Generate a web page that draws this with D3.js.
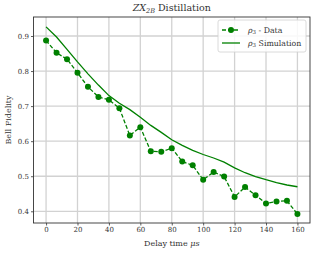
<!DOCTYPE html>
<html>
<head>
<meta charset="utf-8">
<script src="https://cdn.jsdelivr.net/npm/d3@7"></script>
<style>
  body { margin: 0; background: #fff; }
  svg text { font-family: "DejaVu Serif", serif; fill: #333; }
</style>
</head>
<body>
<div id="chart"></div>
<script>
// Data
var delayTimes = [0, 6.67, 13.33, 20, 26.67, 33.33, 40, 46.67, 53.33, 60, 66.67, 73.33, 80,
  86.67, 93.33, 100, 106.67, 113.33, 120, 126.67, 133.33, 140, 146.67, 153.33, 160]
var dataFidelity = [0.887, 0.852, 0.834, 0.795, 0.755, 0.726, 0.718, 0.694, 0.616, 0.640,
  0.571, 0.570, 0.580, 0.542, 0.531, 0.490, 0.512, 0.499, 0.441, 0.469, 0.446, 0.422,
  0.428, 0.430, 0.392]
var simFidelity = [0.926, 0.897, 0.862, 0.826, 0.792, 0.760, 0.730, 0.708, 0.690, 0.668,
  0.645, 0.625, 0.604, 0.588, 0.574, 0.562, 0.552, 0.540, 0.524, 0.510, 0.499, 0.490,
  0.482, 0.475, 0.470]
var xTicks = [0, 20, 40, 60, 80, 100, 120, 140, 160]
var yTicks = [0.4, 0.5, 0.6, 0.7, 0.8, 0.9]

// Dimensions
var width = 316
var height = 254
var margin = { top: 17, right: 6, bottom: 31, left: 33.5 }
var green = '#008000'

var svg = d3.select('#chart').append('svg')
  .attr('width', width)
  .attr('height', height)

// Scales
var xScale = d3.scaleLinear()
  .domain([-8, 168])
  .range([margin.left, width - margin.right])
var yScale = d3.scaleLinear()
  .domain([0.3666, 0.9542])
  .range([height - margin.bottom, margin.top])

// Grid
var grid = svg.append('g').attr('class', 'grid')
grid.selectAll('.vgrid').data(xTicks).enter().append('line')
  .attr('x1', function (d) { return xScale(d) })
  .attr('x2', function (d) { return xScale(d) })
  .attr('y1', margin.top)
  .attr('y2', height - margin.bottom)
  .attr('stroke', '#d2d2d2')
  .attr('stroke-width', 1.3)
grid.selectAll('.hgrid').data(yTicks).enter().append('line')
  .attr('y1', function (d) { return yScale(d) })
  .attr('y2', function (d) { return yScale(d) })
  .attr('x1', margin.left)
  .attr('x2', width - margin.right)
  .attr('stroke', '#d2d2d2')
  .attr('stroke-width', 1.3)

// Axes
var xAxis = svg.append('g')
  .attr('transform', 'translate(0,' + (height - margin.bottom) + ')')
  .call(d3.axisBottom(xScale).tickValues(xTicks).tickSize(2.5).tickPadding(2)
    .tickFormat(d3.format('d')))
var yAxis = svg.append('g')
  .attr('transform', 'translate(' + margin.left + ',0)')
  .call(d3.axisLeft(yScale).tickValues(yTicks).tickSize(2.5).tickPadding(2)
    .tickFormat(d3.format('.1f')))
;[xAxis, yAxis].forEach(function (g) {
  g.select('.domain').remove()
  g.selectAll('line').attr('stroke', '#333').attr('stroke-width', 0.8)
  g.selectAll('text').style('font-family', '"DejaVu Serif", serif')
    .style('font-size', '7px').attr('fill', '#444')
})

// Frame
svg.append('rect')
  .attr('x', margin.left)
  .attr('y', margin.top)
  .attr('width', width - margin.left - margin.right)
  .attr('height', height - margin.top - margin.bottom)
  .attr('fill', 'none')
  .attr('stroke', '#333')
  .attr('stroke-width', 0.9)

// Series
var pts = delayTimes.map(function (t, i) {
  return { t: t, data: dataFidelity[i], sim: simFidelity[i] }
})
var lineData = d3.line()
  .x(function (d) { return xScale(d.t) })
  .y(function (d) { return yScale(d.data) })
var lineSim = d3.line()
  .x(function (d) { return xScale(d.t) })
  .y(function (d) { return yScale(d.sim) })

svg.append('path').datum(pts)
  .attr('d', lineSim)
  .attr('fill', 'none')
  .attr('stroke', green)
  .attr('stroke-width', 1.3)
svg.append('path').datum(pts)
  .attr('d', lineData)
  .attr('fill', 'none')
  .attr('stroke', green)
  .attr('stroke-width', 1.3)
  .attr('stroke-dasharray', '4,2')
svg.selectAll('.dot').data(pts).enter().append('circle')
  .attr('class', 'dot')
  .attr('cx', function (d) { return xScale(d.t) })
  .attr('cy', function (d) { return yScale(d.data) })
  .attr('r', 3)
  .attr('fill', green)

// Title
var title = svg.append('text')
  .attr('x', (margin.left + width - margin.right) / 2)
  .attr('y', 11)
  .attr('text-anchor', 'middle')
  .style('font-size', '9.5px')
title.append('tspan').style('font-style', 'italic').text('ZX')
title.append('tspan').style('font-style', 'italic').style('font-size', '6.5px')
  .attr('dy', 2).text('2B')
title.append('tspan').attr('dy', -2).text(' Distillation')

// Axis labels
var xLabel = svg.append('text')
  .attr('x', (margin.left + width - margin.right) / 2)
  .attr('y', 246)
  .attr('text-anchor', 'middle')
  .style('font-size', '8px')
xLabel.append('tspan').text('Delay time ')
xLabel.append('tspan').style('font-style', 'italic').text('μs')

svg.append('text')
  .attr('transform', 'translate(11,' + ((margin.top + height - margin.bottom) / 2) + ') rotate(-90)')
  .attr('text-anchor', 'middle')
  .style('font-size', '8px')
  .text('Bell Fidelity')

// Legend
var legend = svg.append('g')
legend.append('rect')
  .attr('x', 218).attr('y', 20)
  .attr('width', 88).attr('height', 32)
  .attr('rx', 2)
  .attr('fill', 'rgba(255,255,255,0.85)')
  .attr('stroke', '#d0d0d0')
  .attr('stroke-width', 0.8)
var entries = [
  { label: ' - Data', dashed: true, y: 30 },
  { label: ' Simulation', dashed: false, y: 43 }
]
entries.forEach(function (e) {
  legend.append('line')
    .attr('x1', 222).attr('x2', 240)
    .attr('y1', e.y).attr('y2', e.y)
    .attr('stroke', green)
    .attr('stroke-width', 1.3)
    .attr('stroke-dasharray', e.dashed ? '4,2' : null)
  if (e.dashed) {
    legend.append('circle')
      .attr('cx', 231).attr('cy', e.y).attr('r', 3).attr('fill', green)
  }
  var t = legend.append('text')
    .attr('x', 248).attr('y', e.y + 2.5)
    .style('font-size', '7.8px')
  t.append('tspan').style('font-style', 'italic').text('ρ')
  t.append('tspan').style('font-size', '5.5px').attr('dy', 1.5).text('3')
  t.append('tspan').attr('dy', -1.5).text(e.label)
})
</script>
</body>
</html>
